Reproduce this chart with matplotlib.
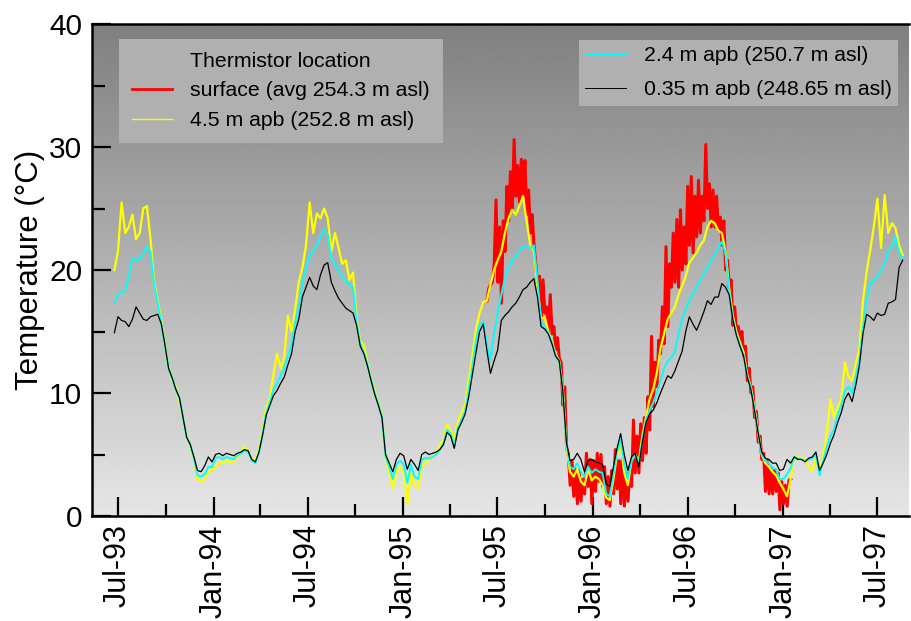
import matplotlib
matplotlib.use("Agg")
import matplotlib.pyplot as plt
import matplotlib.dates as mdates
from matplotlib.lines import Line2D
import numpy as np
import pandas as pd

plt.rcParams['font.family'] = ['Liberation Sans', 'DejaVu Sans']

# weekly readings (deg C), first sample 24 Jun 1993
start_weekly = '1993-06-24'
step_weekly = '167h'
# surface logger, twice weekly, first sample 11 Jun 1995
start_surface = '1995-06-11'
step_surface = '83h30min'

t_035 = [14.9, 16.2, 15.9, 15.8, 15.4, 16.0, 17.0, 16.5, 16.0, 15.9,
         16.2, 16.3, 16.4, 15.6, 13.9, 12.0, 11.2, 10.3, 9.6, 8.0,
         6.4, 5.8, 4.8, 3.7, 3.6, 4.1, 4.8, 4.4, 5.0, 5.1,
         4.9, 5.1, 5.0, 4.9, 5.1, 5.2, 5.4, 5.3, 4.6, 4.4,
         5.2, 6.6, 8.2, 9.0, 9.8, 10.2, 10.8, 11.3, 12.3, 13.2,
         15.0, 16.0, 17.8, 18.6, 19.4, 18.7, 18.4, 19.6, 20.4, 20.6,
         19.0, 18.3, 17.7, 17.3, 16.9, 16.7, 16.5, 15.5, 13.8, 13.2,
         12.2, 11.0, 9.9, 9.0, 8.0, 5.0, 4.3, 3.6, 4.6, 5.1,
         4.9, 3.8, 4.6, 4.2, 3.7, 5.0, 5.2, 5.0, 5.1, 5.2,
         5.4, 5.8, 6.8, 6.5, 5.5, 7.0, 7.6, 8.3, 9.7, 11.5,
         13.3, 15.0, 15.6, 13.5, 11.6, 12.6, 13.5, 15.9, 16.3, 16.6,
         17.0, 17.3, 17.8, 18.4, 18.6, 19.0, 19.3, 17.8, 15.4, 15.2,
         14.8, 14.0, 13.0, 12.6, 10.2, 6.0, 4.5, 4.6, 5.1, 4.6,
         3.6, 4.5, 4.6, 4.4, 4.3, 4.2, 2.6, 2.4, 4.0, 5.5,
         6.7, 5.0, 3.7, 4.8, 5.1, 4.0, 6.0, 7.6, 8.3, 8.6,
         9.2, 10.0, 10.7, 11.4, 11.2, 11.8, 12.6, 13.4, 15.0, 16.2,
         15.6, 15.1, 15.8, 16.6, 17.5, 17.2, 17.8, 17.8, 18.9, 18.6,
         18.0, 16.0, 14.7, 13.8, 13.0, 11.3, 10.3, 8.6, 6.8, 5.2,
         4.7, 4.6, 4.3, 4.3, 3.7, 3.8, 4.6, 4.3, 4.8, 4.6,
         4.6, 4.4, 4.7, 4.8, 5.2, 3.7, 4.3, 5.0, 5.9, 6.6,
         7.6, 8.4, 9.5, 10.0, 9.3, 10.6, 12.2, 14.8, 16.4, 16.2,
         15.9, 16.5, 16.3, 16.4, 17.3, 17.4, 17.6, 20.2, 20.8]

t_24 = [17.3, 18.0, 18.2, 18.3, 19.5, 21.0, 20.8, 20.9, 21.3, 21.9,
        21.5, 18.8, 17.3, 15.6, 13.9, 12.0, 11.2, 10.3, 9.6, 8.0,
        6.4, 5.8, 4.7, 3.3, 3.2, 3.4, 4.0, 4.0, 4.7, 4.8,
        4.6, 4.8, 4.7, 4.6, 4.9, 5.1, 5.3, 5.2, 4.5, 4.3,
        5.2, 6.7, 8.4, 9.3, 10.3, 10.8, 11.4, 12.0, 13.0, 14.0,
        15.8, 17.0, 19.0, 20.2, 21.2, 21.6, 22.0, 22.7, 23.3, 22.9,
        21.0, 20.5, 20.0, 19.5, 19.1, 18.8, 18.6, 15.7, 14.0, 13.3,
        12.3, 11.1, 10.0, 9.1, 8.1, 4.8, 4.0, 3.0, 4.2, 4.5,
        4.2, 2.7, 4.2, 3.2, 3.0, 4.6, 4.7, 4.7, 4.8, 5.0,
        5.4, 5.9, 7.0, 6.7, 5.7, 7.2, 7.8, 8.5, 10.3, 12.2,
        14.3, 15.6, 15.8, 14.0, 12.7, 14.8, 16.5, 18.0, 19.3, 20.2,
        20.7, 21.1, 21.5, 21.9, 21.9, 21.8, 22.0, 19.2, 15.8, 15.4,
        14.9, 14.1, 13.1, 12.6, 10.3, 5.8, 4.0, 3.8, 4.3, 3.6,
        3.2, 4.0, 3.5, 3.8, 3.6, 3.5, 1.8, 1.6, 3.4, 5.2,
        6.2, 4.2, 3.0, 4.5, 5.0, 4.3, 6.2, 7.8, 8.6, 9.2,
        10.0, 11.0, 12.0, 12.6, 12.9, 13.3, 14.8, 16.0, 16.8, 17.6,
        18.0, 18.6, 19.2, 19.7, 20.2, 20.8, 21.2, 21.9, 22.3, 21.4,
        18.4, 16.1, 14.8, 13.9, 13.1, 11.4, 10.4, 8.7, 6.8, 5.0,
        4.5, 4.3, 3.9, 3.8, 3.0, 3.0, 3.4, 3.9, 4.8, 4.7,
        4.6, 4.5, 4.6, 4.7, 5.0, 3.3, 4.5, 5.6, 6.5, 7.0,
        8.2, 9.0, 10.2, 10.5, 10.0, 11.3, 12.7, 15.3, 17.5, 18.9,
        19.2, 19.5, 20.0, 20.5, 21.6, 21.9, 22.7, 21.4, 21.0]

t_45 = [20.0, 21.5, 25.5, 23.0, 23.5, 24.5, 22.5, 23.0, 25.0, 25.2,
        22.5, 19.0, 17.5, 15.8, 14.0, 12.1, 11.0, 10.5, 9.3, 8.0,
        6.5, 5.7, 4.6, 3.0, 2.8, 3.0, 3.6, 3.7, 4.0, 4.4,
        4.3, 4.5, 4.4, 4.4, 4.8, 5.2, 5.6, 5.3, 4.6, 4.5,
        5.5, 7.0, 8.8, 9.6, 11.5, 13.2, 12.0, 13.0, 16.3, 15.0,
        16.8, 19.0, 20.2, 22.0, 25.5, 23.0, 24.6, 24.2, 25.0, 24.2,
        21.5, 23.0, 21.8, 20.5, 20.8, 19.2, 19.8, 16.0, 14.2, 13.9,
        12.4, 11.2, 10.2, 9.2, 8.2, 4.7, 3.6, 2.2, 3.6, 4.0,
        3.5, 1.0, 3.5, 2.5, 2.3, 4.0, 4.3, 4.6, 4.8, 5.1,
        5.7, 6.2, 7.4, 7.0, 6.2, 7.7, 8.4, 9.0, 11.0, 13.0,
        15.2, 16.5, 17.4, 17.5, 18.8, 20.0, 20.8, 21.5, 23.0, 24.2,
        24.9, 24.5, 25.2, 26.0, 24.0, 22.0, 21.5, 18.5, 16.0, 16.2,
        15.0, 14.2, 13.2, 12.6, 10.4, 5.6, 3.6, 3.2, 3.8, 2.8,
        2.5, 3.8, 2.9, 3.2, 3.0, 2.5, 1.5, 1.3, 3.0, 5.0,
        5.8, 3.5, 2.5, 4.5, 5.0, 4.4, 6.5, 8.0, 9.5, 10.3,
        11.6, 13.6, 14.8, 16.0, 16.5, 17.0, 18.0, 18.7, 19.5, 20.6,
        21.0, 21.4, 22.0, 22.4, 23.5, 24.0, 23.8, 23.2, 23.0, 21.5,
        18.6, 16.3, 15.0, 14.1, 13.3, 11.5, 10.5, 8.8, 6.9, 5.0,
        4.3, 4.0, 3.6, 3.3, 2.7, 2.2, 1.6, 3.0, 4.8, 4.8,
        4.7, 4.6, 4.0, 3.7, 4.8, 3.5, 5.0, 6.7, 9.5, 8.0,
        8.8, 9.5, 12.5, 11.3, 11.0, 12.4, 13.5, 17.5, 19.8, 21.6,
        23.5, 25.8, 21.8, 26.1, 23.0, 23.8, 23.4, 22.0, 21.2]

t_surface = [17.5, 18.5, 18.8, 19.0, 20.5, 25.7, 19.0, 23.5, 17.3, 24.0,
             21.5, 26.8, 24.0, 28.0, 25.0, 30.6, 26.0, 28.5, 25.5, 29.0,
             26.0, 28.9, 24.5, 26.5, 23.0, 24.5, 22.0, 20.5, 18.5, 19.5,
             16.0, 19.2, 16.5, 17.0, 15.0, 18.0, 14.8, 15.4, 13.5, 14.5,
             12.8, 12.5, 9.0, 10.5, 5.6, 5.0, 2.5, 4.5, 1.6, 3.8,
             1.0, 3.7, 1.2, 3.0, 1.8, 5.1, 2.4, 4.6, 1.0, 4.5,
             2.0, 5.1, 2.8, 5.0, 2.4, 4.0, 1.0, 3.2, 0.8, 3.7,
             1.8, 5.4, 2.2, 4.5, 1.0, 5.1, 0.8, 3.5, 1.2, 4.0,
             2.4, 7.8, 3.5, 6.5, 3.5, 7.5, 4.5, 8.0, 5.1, 9.7,
             7.0, 14.6, 8.9, 12.5, 10.5, 14.3, 13.2, 17.0, 14.0, 21.9,
             15.4, 20.5, 18.6, 23.0, 19.0, 24.1, 18.6, 24.9, 20.0, 23.5,
             20.5, 26.8, 22.0, 27.6, 21.4, 26.0, 22.7, 27.3, 23.0, 26.0,
             24.0, 30.2, 25.0, 27.0, 23.5, 26.5, 23.5, 26.0, 23.2, 24.3,
             22.0, 24.0, 20.0, 20.8, 18.6, 19.2, 15.5, 17.0, 14.9, 15.4,
             14.3, 15.0, 13.0, 13.8, 11.0, 12.0, 10.0, 10.5, 8.0, 8.5,
             6.0, 6.5, 4.6, 5.1, 2.0, 4.5, 1.8, 4.0, 1.8, 3.7,
             2.0, 3.5, 0.5, 2.8, 1.0, 2.5, 0.8, 2.9, 3.0]

labels = ['surface (avg 254.3 m asl)', '4.5 m apb (252.8 m asl)',
          '2.4 m apb (250.7 m asl)', '0.35 m apb (248.65 m asl)']

dates = pd.date_range(start_weekly, periods=len(t_035), freq=step_weekly)
dates_s = pd.date_range(start_surface, periods=len(t_surface), freq=step_surface)

fig = plt.figure(figsize=(9.11, 6.21), dpi=100)
ax = fig.add_axes([92 / 911, 1 - 516 / 621, 817 / 911, 492 / 621])

# grey gradient background, dark on top
grad = np.linspace(0.50, 0.90, 256).reshape(-1, 1)
ax.imshow(grad, extent=(0, 1, 0, 1), transform=ax.transAxes, aspect='auto',
          cmap='gray', vmin=0, vmax=1, zorder=0, interpolation='bilinear')

ax.plot(dates_s, t_surface, color='#ff0000', lw=2.2, zorder=2)
ax.plot(dates, t_45, color='#ffff00', lw=1.6, zorder=3)
ax.plot(dates, t_24, color='#00ffff', lw=1.4, zorder=4)
ax.plot(dates, t_035, color='black', lw=0.9, zorder=5)

ax.set_xlim(pd.Timestamp('1993-05-12'), pd.Timestamp('1997-08-31'))
ax.set_ylim(0, 40)

ax.xaxis.set_major_locator(mdates.MonthLocator(bymonth=[1, 7]))
ax.xaxis.set_minor_locator(mdates.MonthLocator(bymonth=[4, 10]))
ax.xaxis.set_major_formatter(mdates.DateFormatter('%b-%y'))
ax.set_yticks([0, 10, 20, 30, 40])
ax.set_yticks([5, 15, 25, 35], minor=True)

ax.tick_params(axis='both', which='major', direction='in', length=14, width=1.6)
ax.tick_params(axis='both', which='minor', direction='in', length=9, width=1.6)
ax.tick_params(axis='y', which='major', labelsize=21.5, pad=7)
ax.tick_params(axis='x', which='major', labelsize=22, pad=6, labelrotation=90)

for s in ['left', 'bottom', 'top']:
    ax.spines[s].set_linewidth(1.8)
ax.spines['right'].set_visible(False)

ax.set_ylabel('Temperature (\u00b0C)', fontsize=22.5, labelpad=3)

h_title = Line2D([], [], color='none')
h_red = Line2D([], [], color='#ff0000', lw=2.0)
h_yel = Line2D([], [], color='#ffff00', lw=1.0)
h_cya = Line2D([], [], color='#00ffff', lw=0.8)
h_blk = Line2D([], [], color='black', lw=0.7)

leg1 = ax.legend([h_title, h_red, h_yel], ['Thermistor location', labels[0], labels[1]],
                 loc='upper left', bbox_to_anchor=(0.033, 0.9695), borderaxespad=0,
                 fontsize=15.3, frameon=True, fancybox=False, facecolor='#b0b0b0',
                 edgecolor='none', framealpha=1, handlelength=1.9, handletextpad=0.85,
                 borderpad=0.6, labelspacing=0.5)
leg1.set_zorder(10)
ax.add_artist(leg1)
leg2 = ax.legend([h_cya, h_blk], [labels[2], labels[3]],
                 loc='upper right', bbox_to_anchor=(0.9865, 0.9675), borderaxespad=0,
                 fontsize=15.3, frameon=True, fancybox=False, facecolor='#b0b0b0',
                 edgecolor='none', framealpha=1, handlelength=1.9, handletextpad=0.85,
                 borderpad=0.3, labelspacing=0.7)
leg2.set_zorder(10)

fig.savefig('out.png', dpi=100)
